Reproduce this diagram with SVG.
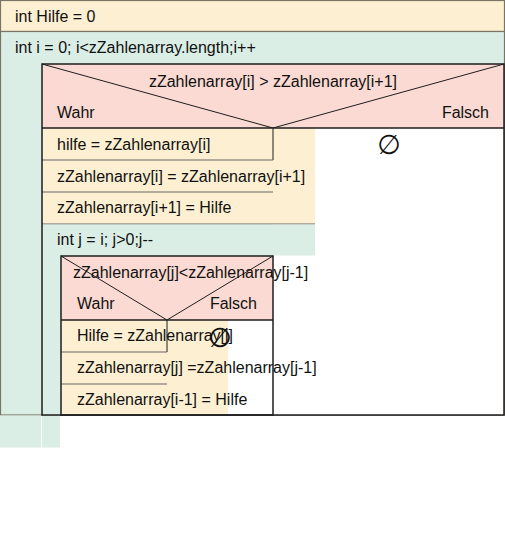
<svg xmlns="http://www.w3.org/2000/svg" width="505" height="557" viewBox="0 0 505 557">
<style>
text{font-family:"Liberation Sans",Arial,sans-serif;font-size:16px;fill:#111}
.cream{fill:#fdefd2}
.green{fill:#dbeee5}
.pink{fill:#fadad2}
.gb{stroke:#7a7466;stroke-width:1.2}
.dk{stroke:#1e1e1e;stroke-width:1.5;fill:none}
.thin{stroke:#1e1e1e;stroke-width:1;fill:none}
.sep{stroke:#666;stroke-width:1;fill:none}
.empty{font-family:"DejaVu Sans",sans-serif;font-size:27px}
</style>
<rect width="505" height="557" fill="#fff"/>
<g id="init">
<rect x="0.5" y="0.5" width="504" height="31" class="cream gb"/>
<text x="15" y="22">int Hilfe = 0</text>
</g>
<g id="outerLoop">
<rect x="0.5" y="31.5" width="504" height="383.5" class="green gb"/>
<rect x="0" y="415.5" width="41" height="32" class="green"/>
<rect x="42" y="415.5" width="18" height="32" class="green"/>
<text x="15" y="53">int i = 0; i&lt;zZahlenarray.length;i++</text>
</g>
<g id="outerIf">
<rect x="42" y="64" width="462" height="64" class="pink"/>
<rect x="273" y="128" width="231" height="287" fill="#fff"/>
<line x1="42" y1="64" x2="273" y2="128" class="thin"/>
<line x1="504" y1="64" x2="273" y2="128" class="thin"/>
<text x="273" y="87" text-anchor="middle">zZahlenarray[i] &gt; zZahlenarray[i+1]</text>
<text x="57" y="118">Wahr</text>
<text x="489" y="118" text-anchor="end">Falsch</text>
<text x="389" y="154" text-anchor="middle" class="empty">∅</text>
</g>
<g id="trueBranch">
<rect x="42" y="128" width="273" height="96" class="cream"/>
<line x1="273" y1="128" x2="273" y2="160" class="thin"/>
<line x1="42" y1="160" x2="273" y2="160" class="sep"/>
<line x1="42" y1="192" x2="273" y2="192" class="sep"/>
<line x1="42" y1="224" x2="315" y2="224" class="sep"/>
<text x="57" y="150">hilfe = zZahlenarray[i]</text>
<text x="57" y="182">zZahlenarray[i] = zZahlenarray[i+1]</text>
<text x="57" y="213">zZahlenarray[i+1] = Hilfe</text>
</g>
<g id="innerLoop">
<rect x="42" y="224.5" width="273" height="31" class="green"/>
<rect x="42" y="255" width="19" height="160" class="green"/>
<text x="57" y="245">int j = i; j&gt;0;j--</text>
</g>
<g id="innerIf">
<rect x="61" y="256" width="212" height="64" class="pink"/>
<rect x="167" y="320" width="106" height="95" fill="#fff"/>
<rect x="61" y="320" width="167" height="95" class="cream"/>
<line x1="61" y1="256" x2="167" y2="320" class="thin"/>
<line x1="273" y1="256" x2="167" y2="320" class="thin"/>
<line x1="61" y1="320" x2="273" y2="320" class="dk"/>
<line x1="167" y1="320" x2="167" y2="352" class="thin"/>
<line x1="61" y1="352" x2="167" y2="352" class="sep"/>
<line x1="61" y1="384" x2="167" y2="384" class="sep"/>
<rect x="61" y="256" width="212" height="159" class="dk"/>
<text x="73" y="278">zZahlenarray[j]&lt;zZahlenarray[j-1]</text>
<text x="77" y="309">Wahr</text>
<text x="257" y="309" text-anchor="end">Falsch</text>
<text x="77" y="341">Hilfe = zZahlenarray[j]</text>
<text x="77" y="373">zZahlenarray[j] =zZahlenarray[j-1]</text>
<text x="77" y="405">zZahlenarray[i-1] = Hilfe</text>
<text x="220" y="347" text-anchor="middle" class="empty">∅</text>
</g>
<g id="outerIfFrame">
<line x1="42" y1="128" x2="504" y2="128" class="dk"/>
<rect x="42" y="64" width="462" height="351" class="dk"/>
</g>
<g id="connectors"/>
</svg>
